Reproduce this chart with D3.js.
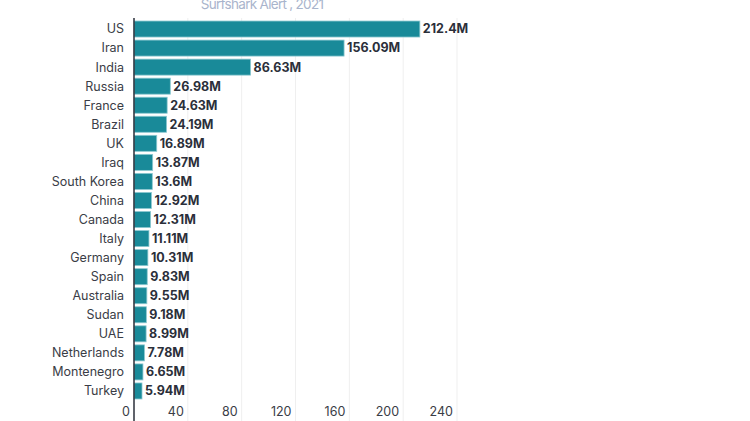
<!DOCTYPE html>
<html lang="en">
<head>
    <meta charset="UTF-8">
    <title>Surfshark Alert 2021</title>
    <script src="https://d3js.org/d3.v7.min.js"></script>
    <style>
        body {
            margin: 0;
            padding: 0;
            background-color: #ffffff;
        }
        text {
            font-family: Inter, "Noto Sans", sans-serif;
        }
    </style>
</head>
<body>
    <svg width="750" height="421"></svg>

    <script>
        const countries = ["US", "Iran", "India", "Russia", "France", "Brazil", "UK", "Iraq",
            "South Korea", "China", "Canada", "Italy", "Germany", "Spain", "Australia",
            "Sudan", "UAE", "Netherlands", "Montenegro", "Turkey"];
        const values = [212.4, 156.09, 86.63, 26.98, 24.63, 24.19, 16.89, 13.87,
            13.6, 12.92, 12.31, 11.11, 10.31, 9.83, 9.55, 9.18, 8.99, 7.78, 6.65, 5.94];
        const ticks = [0, 40, 80, 120, 160, 200, 240];
        const subtitle = "Surfshark Alert , 2021";

        let svg = d3.select("svg");

        let x = d3.scaleLinear()
            .domain([0, 240])
            .range([134, 457]);

        let y = d3.scaleBand()
            .domain(countries)
            .range([19.5, 400.5])
            .paddingInner(0.16)
            .paddingOuter(0.08);

        // subtitle, partly cut off at the top like the source
        svg.append("text")
            .attr("x", 262)
            .attr("y", 9)
            .attr("text-anchor", "middle")
            .attr("font-size", "13.5px")
            .attr("letter-spacing", "-0.7px")
            .attr("fill", "#a9b4cc")
            .text(subtitle);

        // gridlines
        svg.append("g")
            .selectAll("line")
            .data(ticks.slice(1))
            .enter()
            .append("line")
            .attr("x1", d => x(d))
            .attr("x2", d => x(d))
            .attr("y1", 18)
            .attr("y2", 421)
            .attr("stroke", "#efefef")
            .attr("stroke-width", 1);

        // bars
        svg.append("g")
            .selectAll("rect")
            .data(values)
            .enter()
            .append("rect")
            .attr("x", x(0))
            .attr("y", (d, i) => y(countries[i]))
            .attr("width", d => x(d) - x(0))
            .attr("height", y.bandwidth())
            .attr("fill", "#198a99")
            .attr("stroke", "#8cc8d0")
            .attr("stroke-width", 0.8);

        // value labels
        svg.append("g")
            .selectAll("text")
            .data(values)
            .enter()
            .append("text")
            .attr("x", d => x(d) + 3)
            .attr("y", (d, i) => y(countries[i]) + y.bandwidth() / 2)
            .attr("dy", "0.35em")
            .attr("font-size", "12.5px")
            .attr("font-weight", "bold")
            .attr("fill", "#2b2f3a")
            .text(d => d + "M");

        // category labels
        svg.append("g")
            .selectAll("text")
            .data(countries)
            .enter()
            .append("text")
            .attr("x", 124)
            .attr("y", d => y(d) + y.bandwidth() / 2)
            .attr("dy", "0.35em")
            .attr("text-anchor", "end")
            .attr("font-size", "12.5px")
            .attr("fill", "#3a3d46")
            .text(d => d);

        // x tick labels
        svg.append("g")
            .selectAll("text")
            .data(ticks)
            .enter()
            .append("text")
            .attr("x", d => x(d) - 4)
            .attr("y", 412)
            .attr("dy", "0.35em")
            .attr("text-anchor", "end")
            .attr("font-size", "12.5px")
            .attr("fill", "#3a3d46")
            .text(d => d);

        // baseline
        svg.append("line")
            .attr("x1", x(0))
            .attr("x2", x(0))
            .attr("y1", 18)
            .attr("y2", 421)
            .attr("stroke", "#2b2f3a")
            .attr("stroke-width", 1.5);
    </script>
</body>
</html>
